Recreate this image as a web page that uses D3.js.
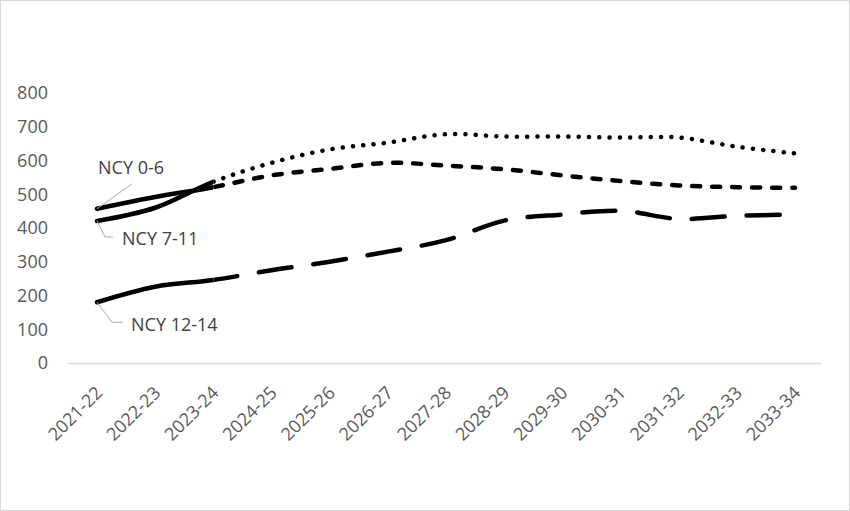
<!DOCTYPE html>
<html><head><meta charset="utf-8">
<script src="https://cdn.jsdelivr.net/npm/d3@7"></script>
<style>body{margin:0;background:#fff}svg{display:block}</style>
</head><body>
<script>
const categories = ["2021-22","2022-23","2023-24","2024-25","2025-26","2026-27","2027-28","2028-29","2029-30","2030-31","2031-32","2032-33","2033-34"];
const ncy0_6  = [457, 492, 521, 556, 575, 593, 585, 574, 556, 539, 526, 521, 519];
const ncy7_11 = [421, 460, 537, 593, 633, 653, 678, 671, 671, 668, 668, 641, 621];
const ncy12_14= [180, 226, 246, 275, 300, 330, 364, 422, 440, 451, 427, 436, 440];
const yTicks = [0,100,200,300,400,500,600,700,800];
const seriesNames = ["NCY 0-6","NCY 7-11","NCY 12-14"];
const actualCount = 3; // first 3 points are actual (solid)

const W=850,H=511;
const svg=d3.select("body").append("svg").attr("width",W).attr("height",H);
svg.append("rect").attr("x",0.5).attr("y",0.5).attr("width",W-1).attr("height",H-1).attr("fill","#fff").attr("stroke","#d9d9d9");

const x=d3.scalePoint().domain(categories).range([97,795]);
const y=d3.scaleLinear().domain([0,800]).range([363,93]);
const font="'Open Sans', 'Liberation Sans', sans-serif";
const fs=18;

// y axis labels
const yAx=svg.append("g").attr("transform","translate(48,0)")
  .call(d3.axisLeft(y).tickValues(yTicks).tickSize(0).tickPadding(0));
yAx.select(".domain").remove();
yAx.selectAll("text").attr("font-family",font).attr("font-size",fs).attr("fill","#595959");

// x axis
const xAx=svg.append("g").attr("transform","translate(0,363)")
  .call(d3.axisBottom(x).tickSize(0).tickPadding(0));
xAx.select(".domain").remove();
svg.append("line").attr("x1",68).attr("x2",821).attr("y1",363.5).attr("y2",363.5).attr("stroke","#d9d9d9").attr("stroke-width",1.5);
xAx.selectAll("text").attr("font-family",font).attr("font-size",fs).attr("fill","#595959")
  .attr("text-anchor","end").attr("dy",0).attr("y",0)
  .attr("transform","translate(6,31) rotate(-45)");

const line=d3.line().x((d,i)=>x(categories[i])).y(d=>y(d)).curve(d3.curveCatmullRom.alpha(0));
const splitX=x(categories[actualCount-1]);
const defs=svg.append("defs");
defs.append("clipPath").attr("id","cA").append("rect").attr("x",0).attr("y",0).attr("width",splitX).attr("height",H);
defs.append("clipPath").attr("id","cP").append("rect").attr("x",splitX).attr("y",0).attr("width",W-splitX).attr("height",H);

const styles=[
  {data:ncy0_6, dash:"8,12"},
  {data:ncy7_11, dash:"0.1,10.2"},
  {data:ncy12_14, dash:"33,22"}
];
styles.forEach(s=>{
  svg.append("path").attr("d",line(s.data)).attr("fill","none").attr("stroke","#000")
    .attr("stroke-width",4.5).attr("stroke-linecap","round").attr("clip-path","url(#cA)");
  svg.append("path").attr("d",line(s.data)).attr("fill","none").attr("stroke","#000")
    .attr("stroke-width",4.5).attr("stroke-linecap","round").attr("stroke-dasharray",s.dash)
    .attr("clip-path","url(#cP)");
});

// data labels with leader lines
const x0=x(categories[0]);
const lbl=svg.append("g").attr("font-family",font).attr("font-size",fs).attr("fill","#404040");
const gray="#a6a6a6";
// NCY 0-6
let py=y(ncy0_6[0]);
svg.append("polyline").attr("points",[[x0,py],[x0+35,py-25]].join(" ")).attr("fill","none").attr("stroke",gray).attr("stroke-width",1);
lbl.append("text").attr("x",x0+1).attr("y",py-41).attr("dy","0.35em").text(seriesNames[0]);
// NCY 7-11
py=y(ncy7_11[0]);
svg.append("polyline").attr("points",[[x0,py],[x0+8,py+16],[x0+16,py+16]].join(" ")).attr("fill","none").attr("stroke",gray).attr("stroke-width",1);
lbl.append("text").attr("x",x0+25).attr("y",py+18).attr("dy","0.35em").text(seriesNames[1]);
// NCY 12-14
py=y(ncy12_14[0]);
svg.append("polyline").attr("points",[[x0,py],[x0+15,py+20],[x0+26,py+20]].join(" ")).attr("fill","none").attr("stroke",gray).attr("stroke-width",1);
lbl.append("text").attr("x",x0+34).attr("y",py+22).attr("dy","0.35em").text(seriesNames[2]);
</script>
</body></html>
